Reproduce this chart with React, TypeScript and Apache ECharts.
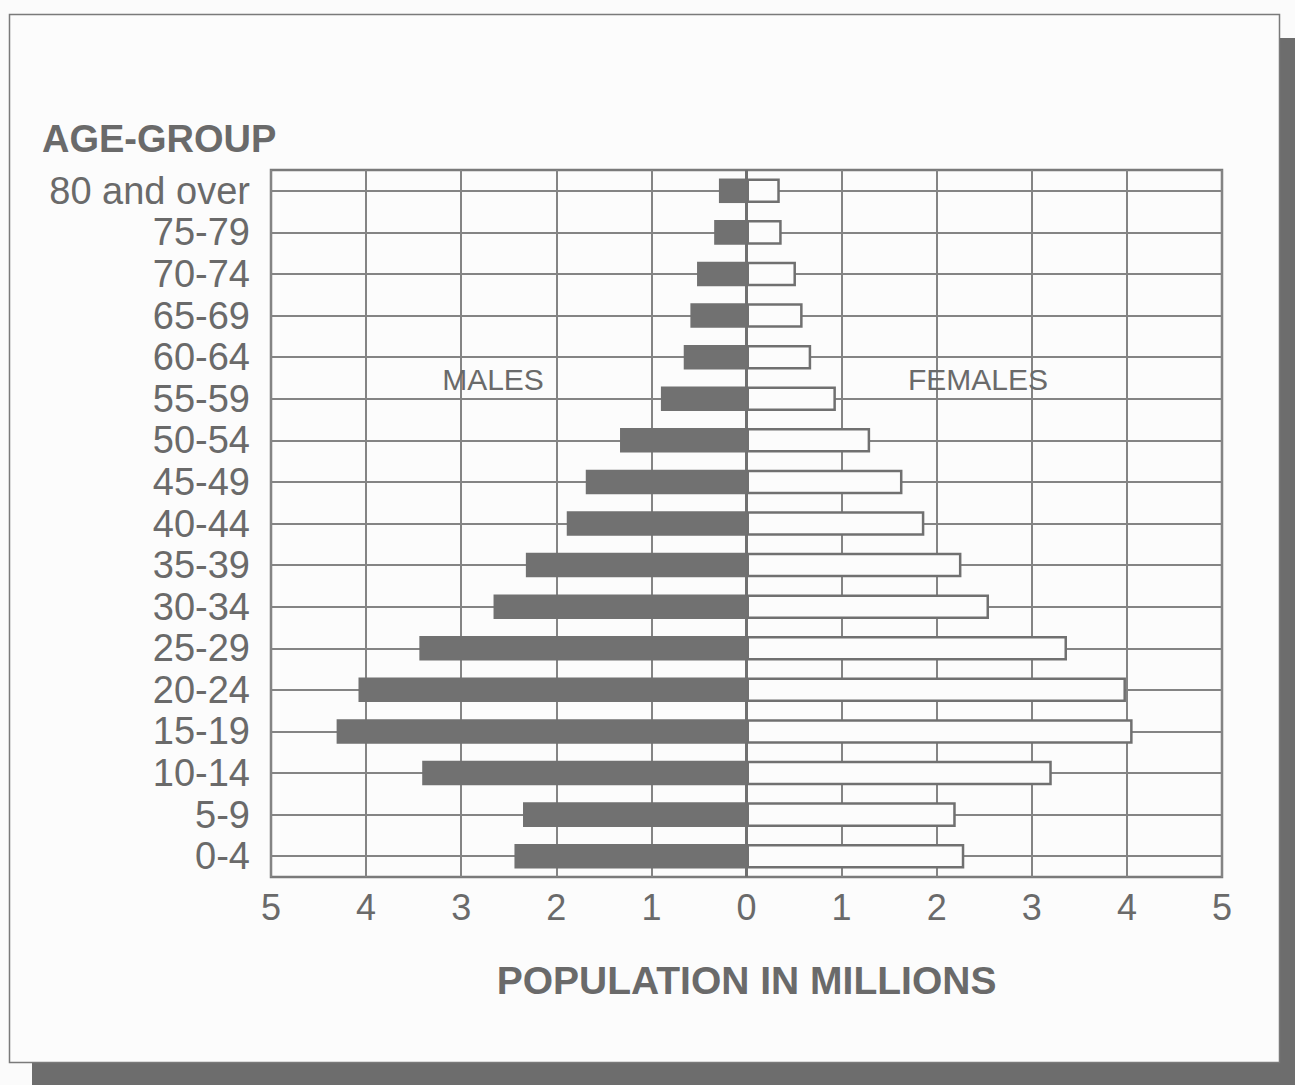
import React, { useEffect, useRef } from "react";
import * as echarts from "echarts";

const ageGroups = [
  "80 and over", "75-79", "70-74", "65-69", "60-64", "55-59", "50-54", "45-49",
  "40-44", "35-39", "30-34", "25-29", "20-24", "15-19", "10-14", "5-9", "0-4",
];
const males = [0.29, 0.34, 0.52, 0.59, 0.66, 0.9, 1.33, 1.69, 1.89, 2.32, 2.66, 3.44, 4.08, 4.31, 3.41, 2.35, 2.44];
const females = [0.35, 0.37, 0.52, 0.59, 0.68, 0.94, 1.3, 1.64, 1.87, 2.26, 2.55, 3.37, 3.99, 4.06, 3.21, 2.2, 2.29];
const xMin = -5;
const xMax = 5;

const FONT = "'Liberation Sans', Arial, Helvetica, sans-serif";
const TEXT = "#6a6a6a";
const LINE = "#848484";

export default function App() {
  const ref = useRef<HTMLDivElement>(null);
  useEffect(() => {
    document.body.style.margin = "0";
    const chart = echarts.init(ref.current!, null, { renderer: "svg" });
    chart.setOption({
      animation: false,
      backgroundColor: "#fbfbfb",
      textStyle: { fontFamily: FONT },
      graphic: [
        { type: "rect", z: -10, shape: { x: 32, y: 38, width: 1263, height: 1047 }, style: { fill: "#6d6d6d" } },
        { type: "rect", z: -9, shape: { x: 9.5, y: 14.5, width: 1270, height: 1048 }, style: { fill: "#fcfcfc", stroke: "#7a7a7a", lineWidth: 1.5 } },
        { type: "text", z: 10, x: 42, y: 139, style: { text: "AGE-GROUP", font: `bold 38px ${FONT}`, fill: TEXT, textVerticalAlign: "middle" } },
        { type: "text", z: 10, x: 493, y: 379, style: { text: "MALES", font: `30px ${FONT}`, fill: TEXT, textAlign: "center", textVerticalAlign: "middle" } },
        { type: "text", z: 10, x: 978, y: 379, style: { text: "FEMALES", font: `30px ${FONT}`, fill: TEXT, textAlign: "center", textVerticalAlign: "middle" } },
      ],
      grid: {
        left: 271, right: 73, top: 170, bottom: 208,
        show: true, borderColor: "#7a7a7a", borderWidth: 2.5, backgroundColor: "transparent",
      },
      xAxis: {
        type: "value", min: xMin, max: xMax, interval: 1,
        name: "POPULATION IN MILLIONS", nameLocation: "middle", nameGap: 84,
        nameTextStyle: { fontSize: 39, fontWeight: "bold", color: TEXT, fontFamily: FONT },
        axisLine: { show: false }, axisTick: { show: false },
        axisLabel: { fontSize: 36, color: TEXT, margin: 12, fontFamily: FONT, formatter: (v: number) => String(Math.abs(v)) },
        splitLine: { show: true, lineStyle: { color: LINE, width: 2 } },
      },
      yAxis: {
        type: "category", data: ageGroups, inverse: true,
        axisLine: { show: false }, axisTick: { show: false },
        axisLabel: { interval: 0, fontSize: 38, color: TEXT, margin: 21, fontFamily: FONT },
        splitLine: { show: false },
      },
      series: [
        {
          name: "Males", type: "bar", data: males.map((v) => -v), barWidth: "59%", barGap: "-100%", z: 3,
          itemStyle: { color: "#717171" },
        },
        {
          name: "Females", type: "bar", data: females, barWidth: "59%", barGap: "-100%", z: 3,
          itemStyle: { color: "#fcfcfc", borderColor: "#707070", borderWidth: 2.5 },
          markLine: {
            z: 1, silent: true, symbol: "none", label: { show: false },
            lineStyle: { color: LINE, width: 2, type: "solid" },
            data: [
              ...ageGroups.map((_, i) => ({ yAxis: i })),
              { xAxis: 0, lineStyle: { color: "#707070", width: 3, type: "solid" } },
            ],
          },
        },
      ],
    });
    return () => chart.dispose();
  }, []);
  return <div ref={ref} style={{ width: 1295, height: 1085 }} />;
}
